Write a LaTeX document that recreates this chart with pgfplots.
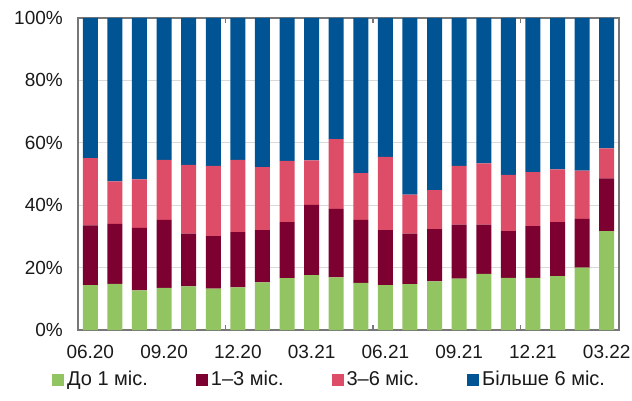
\documentclass[border=0pt]{standalone}
\usepackage{fontspec}
\setmainfont{Liberation Sans}
\usepackage{pgfplots}
\usepackage{pgfplotstable}
\pgfplotsset{compat=1.18}
\definecolor{cgreen}{HTML}{92C562}
\definecolor{cdark}{HTML}{7C0030}
\definecolor{cpink}{HTML}{DD4D68}
\definecolor{cblue}{HTML}{005493}
\definecolor{axgray}{HTML}{777777}
\definecolor{grid}{HTML}{D9D9D9}
\definecolor{txt}{HTML}{1A1A1A}
\pgfplotstableread{
x g d p b
0 14.4 19.1 21.6 44.9
1 14.8 19.2 13.6 52.4
2 12.7 20.0 15.6 51.7
3 13.5 21.8 19.2 45.5
4 14.0 16.9 22.0 47.1
5 13.3 16.8 22.5 47.4
6 13.7 17.7 23.1 45.5
7 15.3 16.7 20.2 47.8
8 16.6 18.0 19.6 45.8
9 17.6 22.5 14.3 45.6
10 16.9 21.9 22.4 38.8
11 15.1 20.2 15.0 49.7
12 14.4 17.6 23.5 44.5
13 14.7 16.2 12.5 56.6
14 15.6 16.7 12.5 55.2
15 16.5 17.3 18.8 47.4
16 18.0 15.8 19.6 46.6
17 16.7 15.0 18.0 50.3
18 16.7 16.6 17.3 49.4
19 17.3 17.3 16.9 48.5
20 20.0 15.6 15.5 48.9
21 31.7 16.9 9.6 41.8
}\datatable
\begin{document}
\fontsize{19bp}{23bp}\selectfont
\begin{tikzpicture}
\begin{axis}[
  at={(0,0)}, anchor=south west,
  scale only axis,
  width=541bp, height=312bp,
  ybar stacked,
  bar width=15bp,
  xmin=-0.5, xmax=21.5,
  ymin=0, ymax=100,
  ytick={0,20,40,60,80,100},
  yticklabels={0\%,20\%,40\%,60\%,80\%,100\%},
  xtick={0,3,6,9,12,15,18,21},
  xticklabels={06.20,09.20,12.20,03.21,06.21,09.21,12.21,03.22},
  ymajorgrids,
  grid style={draw=grid, line width=1bp},
  axis line style={draw=axgray, line width=1.6bp},
  xtick style={draw=none},
  ytick style={draw=none},
  extra x ticks={5.5,11.5,17.5},
  extra x tick labels={},
  extra x tick style={grid=none, major tick length=5bp, tick align=inside,
     xtick style={draw=axgray, line width=1.2bp}},
  tick label style={font=\fontsize{19bp}{23bp}\selectfont, text=txt},
  yticklabel style={inner sep=0pt, xshift=-15bp},
  xticklabel style={inner sep=0pt, yshift=-15bp, anchor=north},
  legend columns=4,
  legend style={draw=none, at={(0.465,-0.16)}, anchor=center,
     font=\fontsize{20bp}{24bp}\selectfont, text=txt,
     /tikz/every even column/.append style={column sep=46bp},
     /tikz/every odd column/.append style={column sep=1bp}},
  legend image code/.code={\fill[#1] (0bp,-6bp) rectangle (12bp,6bp);},
]
\addplot[fill=cgreen, draw=none] table[x=x, y=g] {\datatable};
\addplot[fill=cdark, draw=none] table[x=x, y=d] {\datatable};
\addplot[fill=cpink, draw=none] table[x=x, y=p] {\datatable};
\addplot[fill=cblue, draw=none] table[x=x, y=b] {\datatable};
\legend{До 1 міс.,1–3 міс.,3–6 міс.,Більше 6 міс.}
\end{axis}
\pgfresetboundingbox
\useasboundingbox (-78bp,-71bp) rectangle (554bp,330bp);
\end{tikzpicture}
\end{document}
